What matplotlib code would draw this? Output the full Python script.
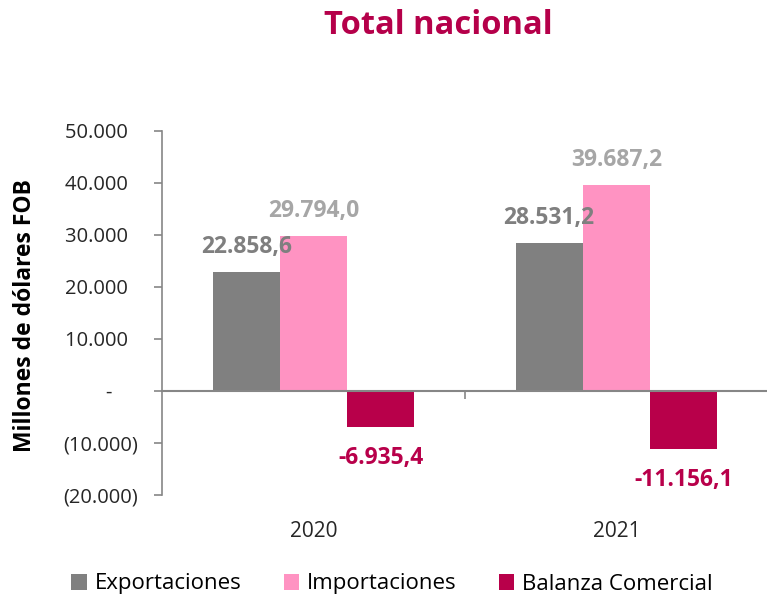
import numpy as np
import matplotlib
matplotlib.use('Agg')
import matplotlib.pyplot as plt
from matplotlib.ticker import FuncFormatter

plt.rcParams['font.family'] = ['Open Sans', 'DejaVu Sans']

years = ['2020', '2021']
series = ['Exportaciones', 'Importaciones', 'Balanza Comercial']
exportaciones = [22858.6, 28531.2]
importaciones = [29794.0, 39687.2]
balanza = [-6935.4, -11156.1]

bar_colors = ['#808080', '#FF93C2', '#B8004A']
label_colors = ['#7F7F7F', '#A6A6A6', '#B8004A']
axis_color = '#868686'


def fmt_es(v):
    s = '{:,.1f}'.format(abs(v)).replace(',', 'X').replace('.', ',').replace('X', '.')
    return ('-' if v < 0 else '') + s


def fmt_tick(v, pos):
    if abs(v) < 1e-6:
        return '-     '
    s = '{:,.0f}'.format(abs(v)).replace(',', '.')
    return '(' + s + ')' if v < 0 else s + '  '


fig = plt.figure(figsize=(7.67, 5.97), dpi=100)
ax = fig.add_axes([162 / 767, 1 - 495 / 597, 606 / 767, 364 / 597])

x = np.arange(len(years))
width = 0.222
data = [exportaciones, importaciones, balanza]
for i, (name, vals) in enumerate(zip(series, data)):
    pos = x + (i - 1) * width
    ax.bar(pos, vals, width, color=bar_colors[i], label=name, linewidth=0)
    for px, v in zip(pos, vals):
        off = 18 if v > 0 else -22
        ax.annotate(fmt_es(v), (px, v), xytext=(0, off), textcoords='offset points',
                    ha='center', va='center', fontsize=16.5, fontweight='bold',
                    color=label_colors[i])

ax.set_xlim(-0.5, 1.5)
ax.set_ylim(-20000, 50000)
ax.set_yticks(np.arange(-20000, 50001, 10000))
ax.yaxis.set_major_formatter(FuncFormatter(fmt_tick))
ax.tick_params(axis='y', labelsize=14.5, color=axis_color, labelcolor='#262626',
               length=6, width=1.2, pad=11)

for side in ['top', 'right']:
    ax.spines[side].set_visible(False)
ax.spines['left'].set_color(axis_color)
ax.spines['left'].set_linewidth(1.2)
ax.spines['bottom'].set_position(('data', 0))
ax.spines['bottom'].set_color(axis_color)
ax.spines['bottom'].set_linewidth(1.5)
ax.set_xticks([0.5])
ax.set_xticklabels([])
ax.tick_params(axis='x', color=axis_color, length=6, width=1.2)

for xi, yr in zip(x, years):
    ax.text(xi, -0.1, yr, transform=ax.get_xaxis_transform(), ha='center',
            va='center', fontsize=15, color='#262626')

fig.text(25 / 767, 1 - 316 / 597, 'Millones de dólares FOB', rotation=90,
         ha='center', va='center', fontsize=16.5, fontweight='bold', color='black')

fig.text(438 / 767, 1 - 25 / 597, 'Total nacional', ha='center', va='center',
         fontsize=23.5, fontweight='bold', color='#B5004A')

fig.legend(loc='center', bbox_to_anchor=(392 / 767, 1 - 584 / 597), ncol=3,
           frameon=False, fontsize=16, handlelength=0.7, handleheight=0.7,
           handletextpad=0.35, columnspacing=1.9)

plt.savefig('out.png', dpi=100)
